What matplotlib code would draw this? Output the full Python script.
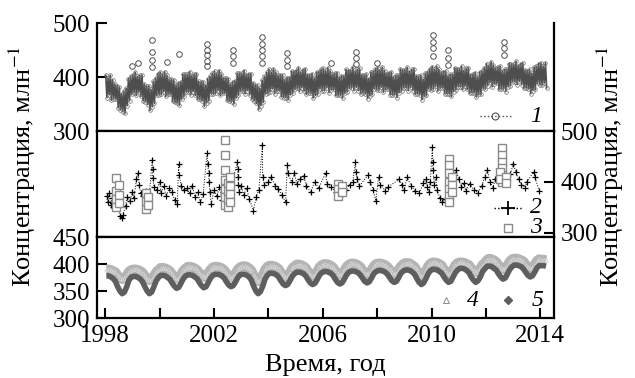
import numpy as np
from matplotlib import pyplot as plt

plt.rcParams['font.family'] = ['Liberation Serif', 'DejaVu Serif']
plt.rcParams['mathtext.fontset'] = 'stix'

# monthly upper / lower edge of the band of series 1 (Jan 1998 .. Mar 2014)
s1_hi = [403, 398, 403, 395, 387, 384, 381, 369, 374, 379, 397, 401,  # 1998
         404, 409, 401, 403, 403, 387, 383, 383, 377, 392, 398, 406,  # 1999
         409, 404, 410, 403, 396, 396, 395, 385, 389, 391, 405, 405,  # 2000
         405, 410, 402, 405, 406, 392, 390, 391, 384, 397, 401, 407,  # 2001
         411, 406, 412, 405, 398, 398, 397, 387, 391, 393, 407, 407,  # 2002
         407, 412, 404, 406, 406, 389, 385, 385, 379, 394, 401, 409,  # 2003
         414, 409, 415, 409, 403, 404, 404, 395, 399, 399, 411, 410,  # 2004
         412, 417, 409, 413, 415, 404, 404, 406, 398, 409, 410, 414,  # 2005
         416, 411, 417, 411, 405, 407, 408, 399, 402, 402, 414, 412,  # 2006
         413, 418, 410, 414, 416, 404, 403, 405, 397, 409, 410, 415,  # 2007
         417, 412, 418, 412, 406, 408, 409, 400, 403, 403, 415, 413,  # 2008
         413, 418, 410, 414, 415, 402, 401, 403, 396, 407, 410, 415,  # 2009
         419, 414, 420, 414, 408, 410, 411, 402, 405, 405, 417, 415,  # 2010
         415, 420, 412, 416, 417, 404, 405, 408, 400, 409, 411, 417,  # 2011
         425, 421, 428, 422, 416, 418, 420, 411, 414, 414, 425, 424,  # 2012
         424, 429, 421, 425, 426, 413, 412, 414, 407, 418, 420, 425,  # 2013
         426, 420, 426]                                               # 2014
s1_lo = [362, 367, 357, 360, 359, 343, 339, 336, 333, 347, 356, 368,
         371, 366, 372, 364, 356, 354, 349, 338, 345, 351, 366, 367,
         368, 373, 364, 368, 368, 355, 353, 352, 348, 359, 364, 372,
         372, 367, 373, 366, 359, 359, 356, 346, 352, 356, 369, 368,
         370, 375, 366, 370, 370, 357, 355, 354, 350, 361, 366, 374,
         374, 369, 375, 367, 359, 356, 351, 340, 347, 353, 369, 370,
         373, 378, 369, 374, 375, 363, 362, 362, 358, 367, 370, 377,
         379, 374, 380, 374, 368, 371, 370, 361, 366, 368, 378, 375,
         375, 380, 371, 376, 377, 366, 366, 366, 361, 370, 373, 379,
         380, 375, 381, 375, 369, 371, 369, 360, 365, 368, 378, 376,
         376, 381, 372, 377, 378, 367, 367, 367, 362, 371, 374, 380,
         380, 375, 381, 375, 368, 369, 367, 358, 364, 366, 378, 376,
         378, 383, 374, 379, 380, 369, 369, 369, 364, 373, 376, 382,
         382, 377, 383, 377, 370, 371, 371, 363, 368, 368, 379, 378,
         384, 390, 382, 387, 388, 377, 378, 378, 373, 382, 384, 391,
         391, 386, 392, 386, 379, 380, 378, 369, 375, 377, 388, 386,
         385, 389, 380]

# spikes of series 1 above the band
t1_out = [1999.0, 1999.2, 1999.72, 1999.72, 1999.72, 1999.72, 2000.28, 2000.72,
          2001.75, 2001.75, 2001.75, 2001.75, 2001.75, 2002.7, 2002.7, 2002.7,
          2003.77, 2003.77, 2003.77, 2003.77, 2003.77, 2004.7, 2004.7, 2004.7,
          2006.3, 2007.22, 2007.22, 2007.22, 2008.0, 2010.07, 2010.07, 2010.07,
          2010.07, 2010.62, 2010.62, 2010.62, 2012.65, 2012.65, 2012.65]
v1_out = [420, 426, 468, 447, 432, 418, 428, 442,
          462, 450, 440, 430, 420, 450, 438, 426,
          475, 462, 450, 438, 426, 444, 432, 420,
          426, 447, 435, 424, 426, 478, 465, 453,
          438, 450, 436, 422, 465, 453, 441]

# series 2 (crosses)
t2 = [1998.05, 1998.1, 1998.15, 1998.2, 1998.25, 1998.3, 1998.35, 1998.45, 1998.55, 1998.6,
      1998.65, 1998.75, 1998.8, 1998.9, 1999.0, 1999.05, 1999.15, 1999.2, 1999.25, 1999.3,
      1999.4, 1999.5, 1999.6, 1999.73, 1999.74, 1999.75, 1999.8, 1999.9, 2000.0, 2000.05,
      2000.15, 2000.25, 2000.35, 2000.45, 2000.55, 2000.65, 2000.7, 2000.72, 2000.8, 2000.9,
      2001.0, 2001.1, 2001.2, 2001.3, 2001.4, 2001.5, 2001.6, 2001.75, 2001.77, 2001.8,
      2001.82, 2001.85, 2001.9, 2002.0, 2002.1, 2002.2, 2002.3, 2002.5, 2002.6, 2002.86,
      2002.87, 2002.88, 2002.9, 2002.92, 2003.0, 2003.1, 2003.2, 2003.3, 2003.45, 2003.55,
      2003.65, 2003.78, 2003.79, 2003.85, 2004.0, 2004.1, 2004.25, 2004.35, 2004.5, 2004.63,
      2004.7, 2004.72, 2004.85, 2004.95, 2005.05, 2005.15, 2005.3, 2005.4, 2005.55, 2005.7,
      2005.85, 2006.1, 2006.15, 2006.3, 2006.5, 2006.6, 2006.7, 2006.85, 2007.0, 2007.1,
      2007.2, 2007.22, 2007.25, 2007.35, 2007.65, 2007.75, 2007.85, 2007.95, 2008.05, 2008.1,
      2008.3, 2008.4, 2008.8, 2008.9, 2009.0, 2009.1, 2009.25, 2009.4, 2009.55, 2009.7,
      2009.8, 2009.85, 2009.9, 2009.95, 2010.03, 2010.04, 2010.05, 2010.1, 2010.15, 2010.2,
      2010.3, 2010.4, 2010.5, 2010.9, 2011.0, 2011.1, 2011.2, 2011.25, 2011.4, 2011.55,
      2011.7, 2011.85, 2011.95, 2012.05, 2012.15, 2012.25, 2012.35, 2012.9, 2013.0, 2013.1,
      2013.2, 2013.3, 2013.45, 2013.5, 2013.75, 2013.8, 2013.95]
v2 = [372, 360, 378, 355, 368, 350, 375, 362, 334, 330,
      336, 352, 370, 362, 380, 368, 405, 418, 395, 378,
      372, 382, 360, 443, 425, 407, 390, 385, 400, 378,
      392, 372, 388, 380, 365, 357, 436, 413, 392, 384,
      388, 378, 393, 371, 381, 360, 376, 456, 436, 417,
      400, 380, 357, 385, 372, 390, 365, 376, 384, 439,
      425, 410, 395, 380, 392, 375, 388, 366, 344, 370,
      385, 472, 410, 395, 400, 410, 392, 386, 375, 360,
      433, 418, 400, 417, 397, 405, 412, 392, 380, 400,
      388, 417, 397, 390, 380, 389, 377, 385, 395, 400,
      439, 420, 405, 392, 413, 400, 385, 363, 410, 395,
      383, 390, 405, 395, 385, 409, 392, 383, 379, 398,
      405, 390, 380, 400, 469, 440, 423, 395, 409, 385,
      369, 360, 366, 423, 405, 390, 398, 383, 397, 385,
      379, 392, 410, 423, 400, 389, 405, 415, 436, 420,
      405, 395, 389, 400, 419, 410, 383]

# series 3 (squares)
t3 = [1998.38, 1998.38, 1998.38, 1998.38, 1998.5, 1998.5, 1998.5,
      1999.5, 1999.5, 1999.5, 1999.58, 1999.58,
      2002.4, 2002.4, 2002.4, 2002.4, 2002.4, 2002.4, 2002.4,
      2002.5, 2002.5, 2002.5, 2002.5, 2002.6, 2002.6, 2002.6, 2002.6,
      2006.55, 2006.55, 2006.55, 2006.7, 2006.7,
      2010.65, 2010.65, 2010.65, 2010.65, 2010.65, 2010.65, 2010.65,
      2010.75, 2010.75, 2010.75,
      2012.6, 2012.6, 2012.6, 2012.6, 2012.6, 2012.6, 2012.5, 2012.5, 2012.75, 2012.75]
v3 = [407, 383, 367, 350, 395, 375, 358,
      379, 363, 347, 370, 355,
      482, 452, 423, 403, 386, 370, 354,
      398, 382, 366, 350, 410, 392, 376, 360,
      397, 387, 373, 392, 380,
      446, 433, 417, 399, 387, 373, 360,
      410, 395, 380,
      466, 452, 439, 427, 413, 399, 420, 405, 410, 398]

# series 4 and 5, monthly (Jan 1998 .. Mar 2014)
s4 = [390, 390, 389, 387, 385, 379, 375, 372, 374, 379, 386, 389,
      390, 390, 389, 387, 384, 378, 373, 370, 372, 378, 385, 389,
      393, 393, 392, 390, 387, 381, 376, 373, 375, 381, 388, 392,
      395, 395, 394, 392, 389, 384, 379, 376, 378, 384, 390, 394,
      395, 395, 394, 392, 389, 383, 378, 375, 377, 383, 390, 394,
      396, 396, 395, 392, 388, 379, 372, 368, 371, 379, 389, 395,
      397, 397, 396, 394, 391, 384, 379, 376, 378, 384, 392, 396,
      399, 399, 398, 396, 393, 386, 381, 378, 380, 386, 394, 398,
      400, 400, 399, 397, 394, 388, 383, 380, 382, 388, 395, 399,
      401, 401, 400, 398, 395, 389, 384, 381, 383, 389, 396, 400,
      401, 401, 400, 398, 395, 390, 385, 382, 384, 390, 396, 400,
      402, 402, 401, 398, 395, 388, 382, 378, 380, 388, 396, 401,
      403, 403, 402, 400, 397, 390, 385, 382, 384, 390, 398, 402,
      403, 403, 402, 400, 398, 392, 388, 385, 387, 392, 399, 402,
      408, 410, 409, 407, 404, 398, 393, 390, 392, 398, 405, 409,
      410, 410, 409, 407, 405, 399, 395, 392, 394, 399, 406, 409,
      408, 408, 407]
s5 = [378, 378, 376, 373, 368, 358, 350, 345, 348, 358, 370, 376,
      377, 377, 375, 372, 367, 358, 350, 345, 348, 358, 369, 375,
      379, 379, 378, 375, 372, 365, 359, 355, 357, 365, 373, 378,
      380, 380, 379, 376, 373, 366, 360, 356, 358, 366, 374, 379,
      381, 381, 380, 378, 374, 367, 361, 358, 360, 367, 375, 380,
      381, 381, 379, 376, 370, 359, 350, 345, 349, 359, 372, 379,
      383, 383, 382, 380, 376, 369, 363, 360, 362, 369, 377, 382,
      385, 385, 384, 382, 378, 371, 365, 362, 364, 371, 379, 384,
      386, 386, 385, 383, 379, 372, 366, 363, 365, 372, 380, 385,
      387, 387, 386, 384, 380, 374, 368, 365, 367, 374, 382, 386,
      388, 388, 387, 385, 381, 375, 369, 366, 368, 375, 383, 387,
      389, 389, 388, 385, 381, 373, 366, 362, 365, 373, 382, 388,
      390, 390, 389, 386, 383, 376, 370, 366, 368, 376, 384, 389,
      392, 392, 391, 388, 384, 376, 370, 366, 369, 376, 386, 391,
      396, 396, 395, 392, 389, 382, 376, 372, 374, 382, 390, 395,
      398, 398, 397, 395, 391, 385, 379, 376, 378, 385, 393, 397,
      397, 397, 396]

months = 1998 + (np.arange(len(s1_hi)) + 0.5) / 12.

# hi and lo alternate half a month apart so the dotted series fills its band
t_band = np.empty(2 * len(months))
v_band = np.empty(2 * len(months))
t_band[0::2] = months - 1 / 48.
t_band[1::2] = months + 1 / 48.
v_band[0::2] = s1_hi
v_band[1::2] = s1_lo

c1 = '#4e4e4e'
c3 = '#8a8a8a'
c4 = '#b4b4b4'
c5 = '#5e5e5e'
fs = 18
serif = 'Liberation Serif'


def key(ax, x, y, label, xt=0.961, line=None, **mk):
  # legend entry drawn in axes coordinates
  if line is not None:
    ax.plot(line, [y, y], ls=':', lw=1, color=mk.get('mec', 'k'),
            transform=ax.transAxes, clip_on=False)
  ax.plot([x], [y], ls='none', transform=ax.transAxes, clip_on=False, **mk)
  ax.text(xt, y, label, transform=ax.transAxes, ha='center', va='center',
          fontsize=17, style='italic', family=serif)


fig = plt.figure(figsize=(6.35, 3.78), dpi=100)
ax1 = fig.add_axes([0.1528, 0.6534, 0.7196, 0.2857])
ax2 = fig.add_axes([0.1528, 0.373, 0.7196, 0.2804])
ax3 = fig.add_axes([0.1528, 0.1587, 0.7196, 0.2143])

for ax in (ax1, ax2, ax3):
  ax.set_xlim(1997.7, 2014.5)
  for s in ax.spines.values():
    s.set_linewidth(1.6)
  ax.tick_params(direction='in', length=7, width=1.5, labelsize=fs, pad=5)
  ax.set_xticks(np.arange(1998, 2015, 2))

# top panel: series 1
ax1.plot(t_band, v_band, ls='-', lw=1.2, color=c1, marker='o', ms=2.6,
         mfc='none', mec='#6a6a6a', mew=0.5)
ax1.plot(t1_out, v1_out, ls='none', marker='o', ms=4, mfc='none', mec=c1, mew=0.7)
ax1.set_ylim(300, 500)
ax1.set_yticks([300, 400, 500])
ax1.spines['top'].set_visible(False)
ax1.tick_params(axis='x', bottom=False, labelbottom=False)
key(ax1, 0.871, 0.139, '1', line=[0.838, 0.908], marker='o', ms=5,
    mfc='none', mec=c1, mew=0.8)

# middle panel: series 2 and 3
ax2.plot(t2, v2, ls=':', lw=0.7, color='k', marker='+', ms=5, mew=0.9)
ax2.plot(t3, v3, ls='none', marker='s', ms=5.5, mfc='white', mec=c3, mew=1.0)
ax2.set_ylim(292, 500)
ax2.yaxis.tick_right()
ax2.set_yticks([300, 400, 500])
ax2.tick_params(axis='x', bottom=False, labelbottom=False)
key(ax2, 0.899, 0.274, '2', line=[0.868, 0.932], marker='+', ms=10, mew=1.3,
    mec='k')
key(ax2, 0.899, 0.085, '3', marker='s', ms=6, mfc='white', mec=c3, mew=1.0)

# bottom panel: series 4 and 5
ax3.plot(months, s4, color=c4, lw=7, marker='^', ms=2.5, mfc='none', mec='#d4d4d4',
         mew=0.6, solid_capstyle='butt')
ax3.plot(months, s5, color=c5, lw=4, solid_capstyle='butt')
ax3.set_ylim(300, 450)
ax3.set_yticks([300, 350, 400, 450])
ax3.set_xticklabels(['1998', '', '2002', '', '2006', '', '2010', '', '2014'])
key(ax3, 0.764, 0.222, '4', xt=0.823, marker='^', ms=5, mfc='none', mec=c3, mew=0.7)
key(ax3, 0.899, 0.222, '5', xt=0.965, marker='D', ms=4.5, mfc=c5, mec=c5)

fig.text(0.036, 0.56, 'Концентрация, млн$^{-1}$', rotation=90, ha='center',
         va='center', fontsize=19, family=serif)
fig.text(0.962, 0.56, 'Концентрация, млн$^{-1}$', rotation=90, ha='center',
         va='center', fontsize=19, family=serif)
fig.text(0.512, 0.035, 'Время, год', ha='center', va='center', fontsize=19,
         family=serif)

plt.savefig('out.png', dpi=100)
